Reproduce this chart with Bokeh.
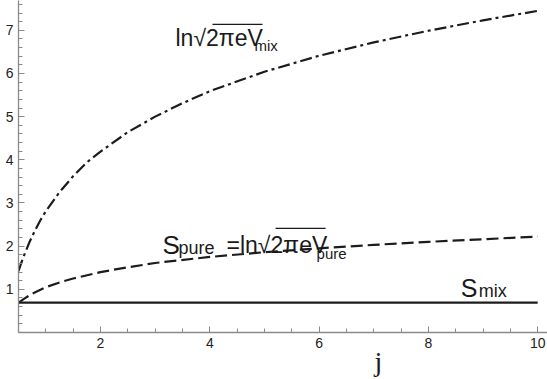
from bokeh.plotting import figure
from bokeh.models import Range1d, FixedTicker, Label, Title
from bokeh.embed import file_html
from bokeh.resources import INLINE

# ---- data ----
j_vmix = [0.5, 0.55, 0.6, 0.7, 0.8, 0.9, 1.0, 1.25, 1.5, 1.75, 2.0, 2.5, 3.0, 3.5, 4.0, 5.0, 6.0, 7.0, 8.0, 9.0, 10.0]
ln_vmix = [1.42, 1.61, 1.78, 2.09, 2.36, 2.60, 2.81, 3.25, 3.62, 3.94, 4.19, 4.64, 5.00, 5.31, 5.59, 6.04, 6.41, 6.72, 6.99, 7.23, 7.45]

j_pure = [0.5, 0.6, 0.75, 1.0, 1.25, 1.5, 2.0, 2.5, 3.0, 4.0, 5.0, 6.0, 7.0, 8.0, 9.0, 10.0]
s_pure = [0.69, 0.78, 0.90, 1.05, 1.16, 1.25, 1.40, 1.51, 1.61, 1.75, 1.86, 1.95, 2.03, 2.10, 2.16, 2.22]

j_smix = [0.5, 10.0]
s_mix = [0.693, 0.693]

x_ticks = [2, 4, 6, 8, 10]
x_minor = [0.5 * k for k in range(1, 21)]
y_ticks = [1, 2, 3, 4, 5, 6, 7]
y_minor = [round(0.2 * k, 1) for k in range(1, 39)]

# ---- figure ----
X0, X1 = 0.5, 10.18
Y0, Y1 = 0.0, 7.69
LEFT, BOTTOM = 18, 47
p = figure(width=547, height=379, x_range=Range1d(X0, X1), y_range=Range1d(Y0, Y1),
           output_backend="svg", toolbar_location=None,
           min_border_left=LEFT, min_border_right=0, min_border_top=0, min_border_bottom=BOTTOM)
p.outline_line_color = None
p.xgrid.visible = False
p.ygrid.visible = False
p.background_fill_color = "white"
p.border_fill_color = "white"

axc = "#8a8a8a"
for ax in (p.xaxis[0], p.yaxis[0]):
    ax.axis_line_color = axc
    ax.axis_line_width = 1.3
    ax.major_tick_line_color = axc
    ax.minor_tick_line_color = axc
    ax.major_tick_in = 6
    ax.major_tick_out = 0
    ax.minor_tick_in = 4
    ax.minor_tick_out = 0
    ax.major_label_text_font = "Liberation Sans"
    ax.major_label_text_font_size = "14px"
    ax.major_label_text_color = "#222222"
p.xaxis[0].ticker = FixedTicker(ticks=x_ticks, minor_ticks=x_minor)
p.yaxis[0].ticker = FixedTicker(ticks=y_ticks, minor_ticks=y_minor)
p.xaxis[0].major_label_standoff = 5
p.yaxis[0].major_label_standoff = 5

p.add_layout(Title(text="j", text_font="Liberation Serif", text_font_size="28px",
                   text_font_style="normal", text_color="#1a1a1a",
                   align="left", offset=356, standoff=-14), "below")

lc = "#1c1c1c"
p.line(j_vmix, ln_vmix, line_color=lc, line_width=2.2, line_dash="12 4 3 4")
p.line(j_pure, s_pure, line_color=lc, line_width=2.2, line_dash="12 5")
p.line(j_smix, s_mix, line_color=lc, line_width=2.2)

# ---- text annotations (placed by pixel position in the picture) ----
SX = (537 - 100) / 8.0
SY = (332 - 30) / 7.0

def dx(px):
    return 2.0 + (px - 100) / SX

def dy(py):
    return (332 - py) / SY

def lab(text, px, py, size, font="Liberation Sans"):
    # py is the wanted baseline; labels render about 0.38 em lower than their anchor
    p.add_layout(Label(x=dx(px), y=dy(py - 0.38 * size), text=text, text_font=font,
                       text_font_size=f"{size}px", text_baseline="alphabetic",
                       text_color="#1a1a1a"))

def overbar(px0, px1, py):
    p.segment(x0=[dx(px0)], y0=[dy(py)], x1=[dx(px1)], y1=[dy(py)],
              line_color="#1a1a1a", line_width=1.3)

lab("ln√2πeV", 175, 46, 23)
lab("mix", 254, 51, 15)
overbar(212, 262, 24)

lab("S", 162, 254, 26)
lab("pure", 178, 254, 18)
lab("=ln√2πeV", 226, 253, 23)
lab("pure", 316, 259, 15)
overbar(275, 325, 228)

lab("S", 460, 297, 25)
lab("mix", 478, 297, 18)

open("out.html", "w").write(file_html(p, INLINE))
